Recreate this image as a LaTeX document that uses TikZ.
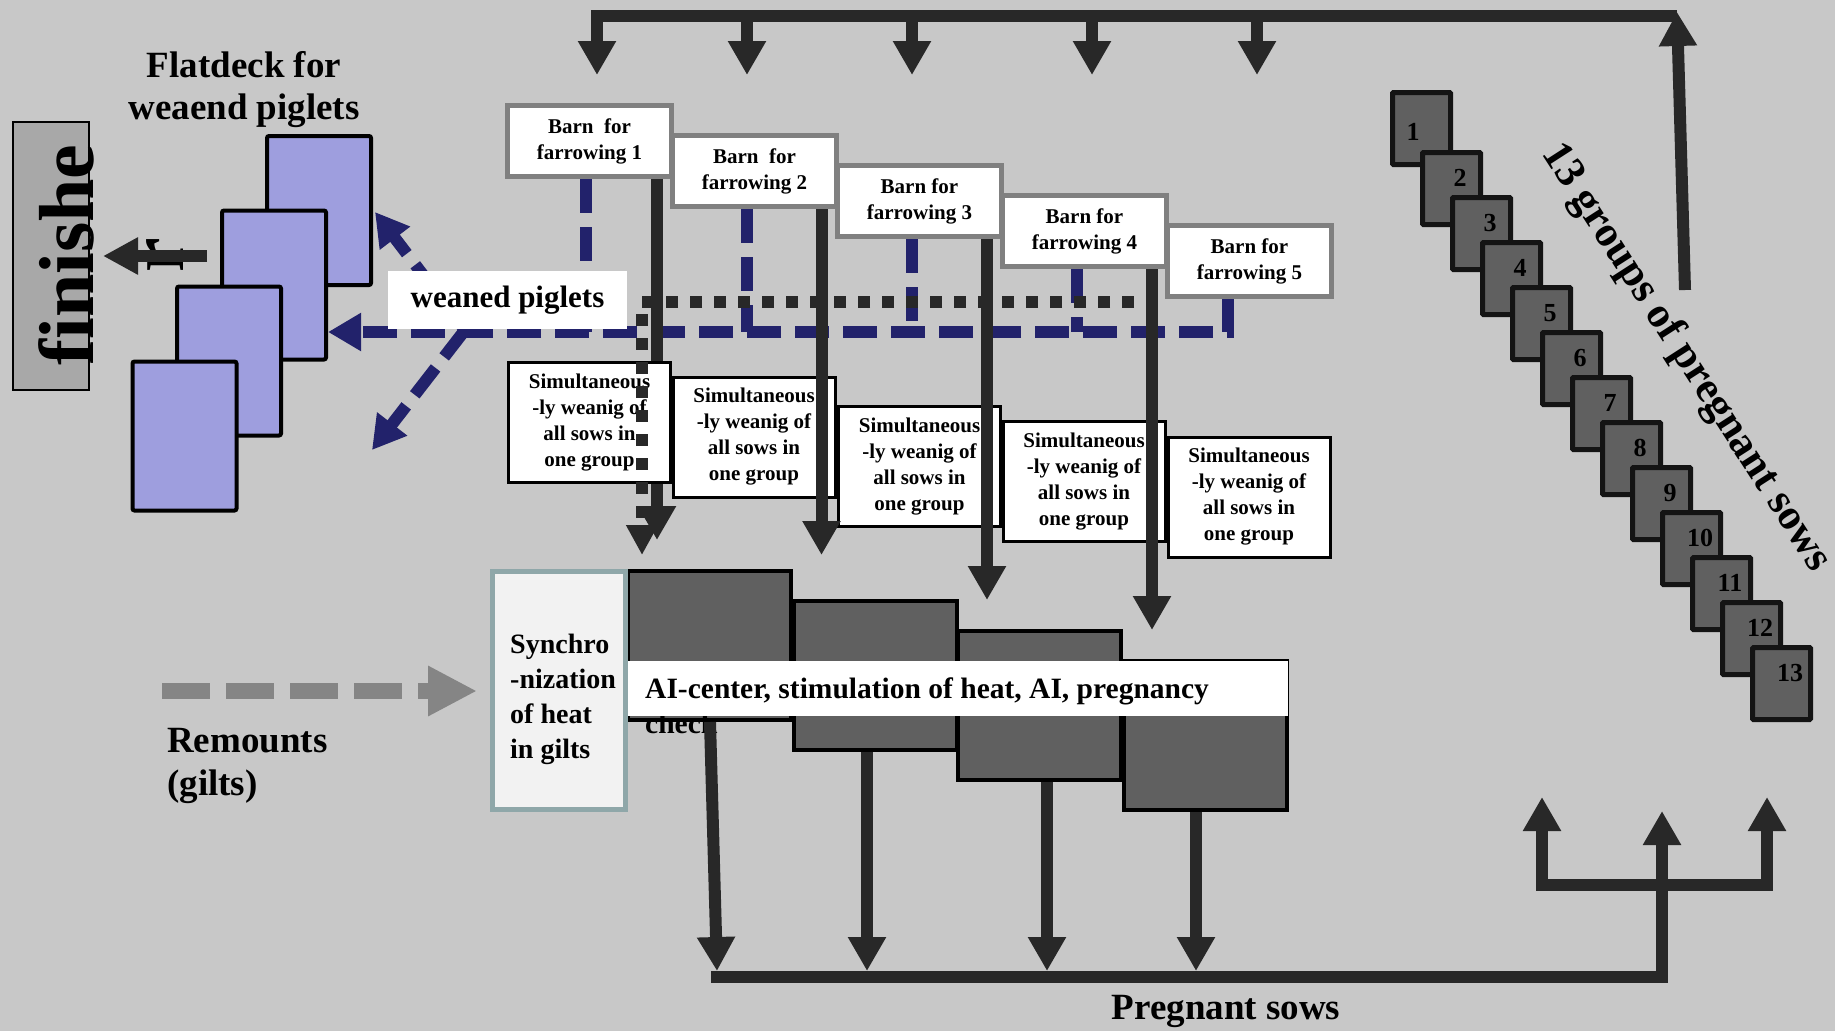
\documentclass[tikz,border=0pt]{standalone}
\usepackage{fontspec}
\setmainfont{Liberation Serif}
\usetikzlibrary{arrows.meta,calc}
\definecolor{bgc}{RGB}{200,200,200}
\definecolor{lc}{RGB}{40,40,40}
\definecolor{navc}{RGB}{34,34,107}
\definecolor{lavc}{RGB}{158,158,222}
\definecolor{finc}{RGB}{168,168,168}
\definecolor{dkc}{RGB}{96,96,96}
\definecolor{barnc}{RGB}{128,128,128}
\definecolor{syncb}{RGB}{143,167,169}
\definecolor{syncf}{RGB}{242,242,242}
\definecolor{remc}{RGB}{133,133,133}
\definecolor{nbb}{RGB}{20,20,20}
\begin{document}
\begin{tikzpicture}[x=1pt,y=-1pt,
  blk/.style={draw=lc,line width=12pt},
  tipB/.style={-{Triangle[width=36pt,length=34pt]}},
  tipN/.style={-{Triangle[width=36pt,length=33pt]}},
  nav/.style={draw=navc,line width=12pt,dash pattern=on 34pt off 14pt},
  dotl/.style={draw=lc,line width=12pt,dash pattern=on 12pt off 12pt},
  rem/.style={draw=remc,line width=16pt,dash pattern=on 48pt off 16pt,-{Triangle[width=47pt,length=49pt]}},
  barn/.style={draw=barnc,line width=5pt,fill=white,minimum width=164pt,minimum height=71pt,inner sep=0pt,align=center,font=\fontsize{21}{26}\selectfont\bfseries},
  simbox/.style={draw=black,line width=3pt,fill=white,minimum width=162pt,minimum height=120pt,inner sep=0pt,align=center,font=\fontsize{21}{26}\selectfont\bfseries},
  fdbox/.style={draw=black,line width=4pt,fill=lavc,minimum width=104pt,minimum height=149pt,rounded corners=2pt},
  nbox/.style={draw=nbb,line width=5pt,fill=dkc,minimum width=58pt,minimum height=72pt,rounded corners=1pt},
  nlab/.style={inner sep=0pt,font=\fontsize{26}{30}\selectfont\bfseries},
  dkbox/.style={draw=black,line width=4pt,fill=dkc,minimum width=163pt,minimum height=149pt},
  big/.style={inner sep=0pt,font=\fontsize{37}{43}\selectfont\bfseries}
]
\path[use as bounding box,fill=bgc] (0,0) rectangle (1835,1031);

% ---------- top bus ----------
\coordinate (tL) at (597,16);
\coordinate (tR) at (1677,16);
\coordinate (t1) at (597,75);
\coordinate (t2) at (747,75);
\coordinate (t3) at (912,75);
\coordinate (t4) at (1092,75);
\coordinate (t5) at (1257,75);
\draw[blk,tipB] (tR) -- (tL) -- (t1);
\draw[blk,tipB] (t2 |- tL) -- (t2);
\draw[blk,tipB] (t3 |- tL) -- (t3);
\draw[blk,tipB] (t4 |- tL) -- (t4);
\draw[blk,tipB] (t5 |- tL) -- (t5);
\coordinate (uS) at (1685,290);
\coordinate (uT) at (1677,12);
\draw[blk,tipB] (uS) -- (uT);

% ---------- 13 groups ----------
\node[nbox] (nb1) at (1421.5,128.5) {};
\node[nlab] (nl1) at (1413,132) {1};
\foreach \k in {2,...,13}{
  \pgfmathsetmacro{\lx}{1420+30*(\k-2)}
  \pgfmathsetmacro{\ty}{150+45*(\k-2)}
  \node[nbox] (nb\k) at (\lx+31.5,\ty+38.5) {};
  \node[nlab] (nl\k) at (\lx+40,\ty+28) {\k};
}
\node[rotate=-57.2,inner sep=0pt,font=\fontsize{43}{50}\selectfont\bfseries] (grp) at (1686,358) {13 groups of pregnant sows};

% ---------- flatdeck ----------
\node[fdbox] (fd1) at (319,210.5) {};
\node[fdbox] (fd2) at (274,285) {};
\node[fdbox] (fd3) at (229,361) {};
\node[fdbox] (fd4) at (184.5,436) {};
\node[big,anchor=north,align=center,font=\fontsize{37}{42}\selectfont\bfseries] (fdt) at (244,51) {Flatdeck for\\weaend piglets};

% ---------- finisher ----------
\node[draw=black,line width=2pt,fill=finc,minimum width=76pt,minimum height=268pt,inner sep=0pt] (fin) at (51,256) {};
\node[rotate=90,anchor=base,inner sep=0pt,font=\fontsize{78}{90}\selectfont\bfseries] (fint) at (93,255) {finishe};
\node[rotate=90,anchor=base,inner sep=0pt,font=\fontsize{78}{90}\selectfont\bfseries] (finr) at (183,255) {r};
\coordinate (fS) at (207,256);
\coordinate (fT) at (103,256);
\draw[blk,-{Triangle[width=35pt,length=35pt]}] (fS) -- (fT);

% ---------- barns ----------
\node[barn] (barn1) at (589.5,141) {Barn\ \ for\\farrowing 1};
\node[barn] (barn2) at (754.5,171) {Barn\ \ for\\farrowing 2};
\node[barn] (barn3) at (919.5,201) {Barn for\\farrowing 3};
\node[barn] (barn4) at (1084.5,231) {Barn for\\farrowing 4};
\node[barn] (barn5) at (1249.5,261) {Barn for\\farrowing 5};

% ---------- navy weaned piglet flow ----------
\coordinate (nv1) at (586,332);
\coordinate (nv2) at (747,332);
\coordinate (nv3) at (912,332);
\coordinate (nv4) at (1077,332);
\coordinate (nh) at (1228,332);
\draw[nav] (barn1.south -| nv1) -- (nv1);
\draw[nav] (barn2.south -| nv2) -- (nv2);
\draw[nav] (barn3.south -| nv3) -- (nv3);
\draw[nav] (barn4.south -| nv4) -- (nv4);
\draw[nav,tipN] (barn5.south -| nh) -- (nh) -- (fd2.east |- nh);
\coordinate (wpo) at (465,330);
\coordinate (dU) at (375,212);
\coordinate (dD) at (372,450);
\draw[nav,tipN] (wpo) -- (dU);
\draw[nav,tipN] (wpo) -- (dD);
\node[fill=white,minimum width=239pt,minimum height=58pt,inner sep=0pt,font=\fontsize{31}{36}\selectfont\bfseries] (wp) at (507.5,300) {weaned piglets};

% ---------- sows to AI ----------
\coordinate (k1) at (657,540);
\coordinate (k2) at (821.5,555);
\coordinate (k3) at (987,600);
\coordinate (k4) at (1152,630);
\draw[blk,tipB] (barn1.south -| k1) -- (k1);
\node[simbox] (sim1) at (589.5,422.5) {Simultaneous\\-ly weanig of\\all sows in\\one group};
\node[simbox] (sim2) at (754,437) {Simultaneous\\-ly weanig of\\all sows in\\one group};
\node[simbox] (sim3) at (919.5,466.5) {Simultaneous\\-ly weanig of\\all sows in\\one group};
\node[simbox] (sim4) at (1084,481.5) {Simultaneous\\-ly weanig of\\all sows in\\one group};
\node[simbox] (sim5) at (1249,497) {Simultaneous\\-ly weanig of\\all sows in\\one group};
\coordinate (dtR) at (1134,302);
\coordinate (dtC) at (642,302);
\coordinate (dtT) at (642,555);
\draw[dotl,-{Triangle[width=30pt,length=30pt]}] (dtR) -- (dtC) -- (dtT);
\draw[blk,tipB] (barn2.south -| k2) -- (k2);
\draw[blk,tipB] (barn3.south -| k3) -- (k3);
\draw[blk,tipB] (barn4.south -| k4) -- (k4);

% ---------- AI center ----------
\node[dkbox] (d1) at (709,645.5) {};
\node[dkbox] (d2) at (875,675.5) {};
\node[dkbox] (d3) at (1039.5,705.5) {};
\node[dkbox] (d4) at (1205,735.5) {};
\node[anchor=base west,inner sep=0pt,font=\fontsize{29.5}{35}\selectfont\bfseries] (chk) at (645,733) {check};
\node[fill=white,minimum width=662pt,minimum height=55pt,inner sep=0pt] (ai) at (957,688.5) {};
\node[anchor=base west,inner sep=0pt,font=\fontsize{29.5}{35}\selectfont\bfseries] (ait) at (645,698) {AI-center, stimulation of heat, AI, pregnancy};
\node[draw=syncb,line width=5pt,fill=syncf,minimum width=133pt,minimum height=238pt,inner sep=0pt] (sync) at (559,690.5) {};
\node[anchor=north west,inner sep=0pt,align=left,font=\fontsize{28}{35}\selectfont\bfseries] (synct) at (510,634) {Synchro\\-nization\\of heat\\in gilts};

% ---------- pregnant sows ----------
\coordinate (bA) at (717,971);
\coordinate (bB) at (867,971);
\coordinate (bC) at (1047,971);
\coordinate (bD) at (1196,971);
\coordinate (busL) at (711,977);
\coordinate (busR) at (1662,977);
\coordinate (brC) at (1662,885);
\coordinate (brL) at (1542,797);
\coordinate (brM) at (1662,811);
\coordinate (brR) at (1767,797);
\draw[blk,tipB] ($(d1.south)+(1,0)$) -- (bA);
\draw[blk,tipB] (d2.south -| bB) -- (bB);
\draw[blk,tipB] (d3.south -| bC) -- (bC);
\draw[blk,tipB] (d4.south -| bD) -- (bD);
\draw[blk] (busL) -- (busR) -- (brC);
\draw[blk,tipB] (brC) -- (brM);
\draw[blk,tipB] (brC) -| (brL);
\draw[blk,tipB] (brC) -| (brR);
\node[big,anchor=base] (ps) at (1226,1019) {Pregnant sows};

% ---------- remounts ----------
\coordinate (rS) at (162,691);
\coordinate (rT) at (477,691);
\draw[rem] (rS) -- (rT);
\node[big,anchor=north west,align=left] (remt) at (167,728) {Remounts\\(gilts)};
\end{tikzpicture}
\end{document}
